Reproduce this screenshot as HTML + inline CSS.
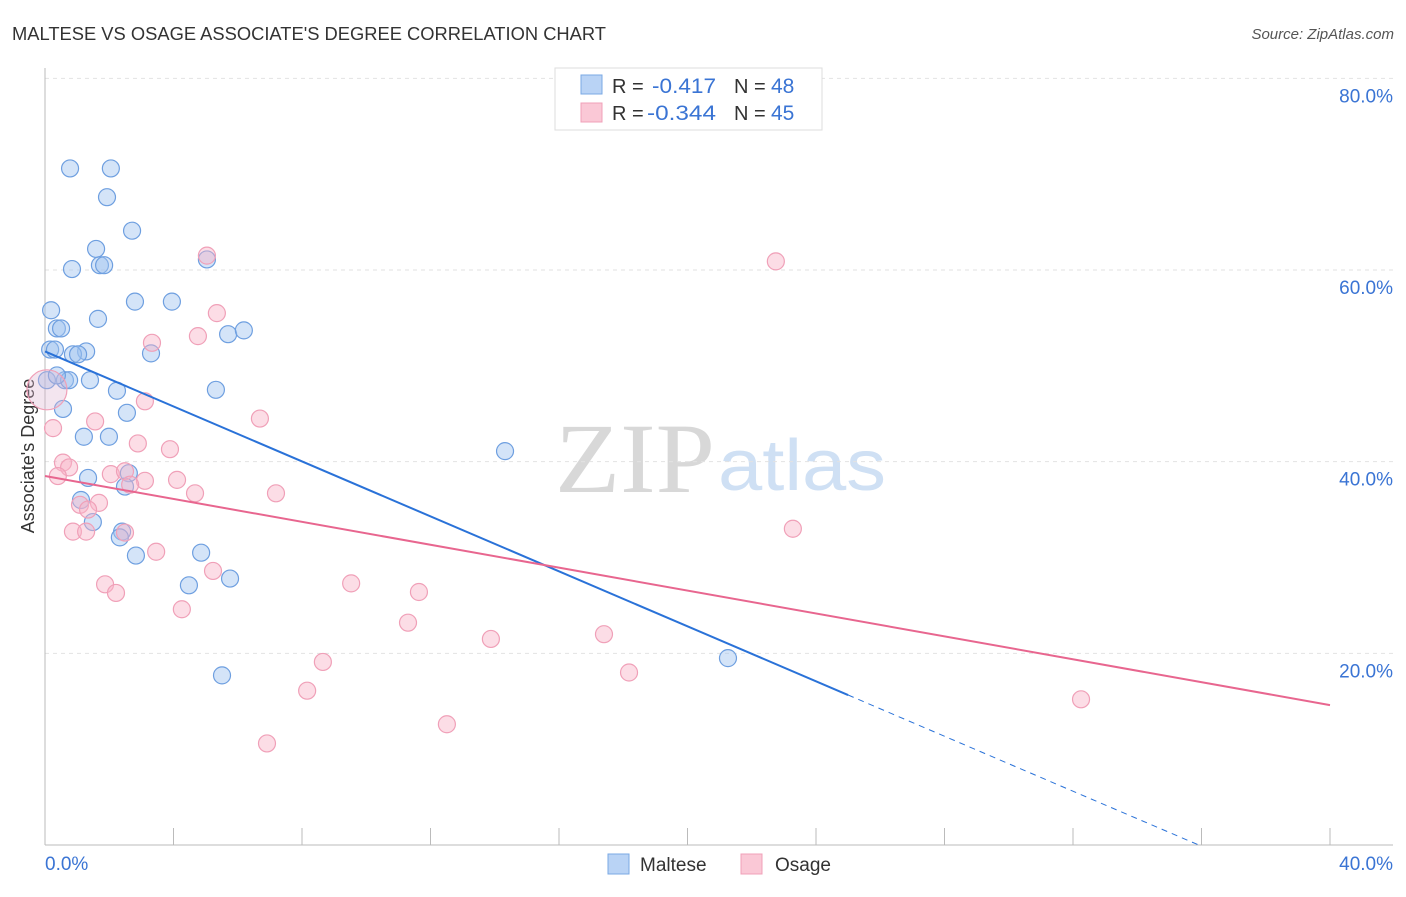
<!DOCTYPE html>
<html><head><meta charset="utf-8"><style>
body{margin:0;background:#fff;font-family:"Liberation Sans",sans-serif;}
svg text{font-family:"Liberation Sans",sans-serif;}
</style></head><body>
<svg id="chart" width="1406" height="892">
<text x="12" y="40" font-size="18" fill="#333" textLength="594" lengthAdjust="spacingAndGlyphs">MALTESE VS OSAGE ASSOCIATE'S DEGREE CORRELATION CHART</text>
<text x="1394" y="39" font-size="15" fill="#555" font-style="italic" text-anchor="end">Source: ZipAtlas.com</text>
<text x="555" y="492" font-size="100" fill="#d8d8d8" style="font-family:'Liberation Serif',serif" textLength="160" lengthAdjust="spacingAndGlyphs">ZIP</text>
<text x="718" y="490" font-size="72" fill="#cfe0f4" textLength="168" lengthAdjust="spacingAndGlyphs">atlas</text>
<text x="34" y="456" font-size="18" fill="#333" text-anchor="middle" transform="rotate(-90 34 456)">Associate's Degree</text>
<g id="grid"></g><g id="pts"></g><g id="lines"></g>
<g>
<rect x="555" y="68" width="267" height="62" fill="#fff" stroke="#ddd"/>
<rect x="581" y="75" width="21" height="19" fill="#b9d3f5" stroke="#7aa8e4"/>
<rect x="581" y="103" width="21" height="19" fill="#fac8d6" stroke="#f0a0b8"/>
<text x="612" y="93" font-size="20" fill="#333">R = </text><text x="652" y="93" font-size="21" fill="#3a74d4" textLength="64" lengthAdjust="spacingAndGlyphs">-0.417</text>
<text x="734" y="93" font-size="20" fill="#333">N = </text><text x="771" y="93" font-size="21" fill="#3a74d4">48</text>
<text x="612" y="120" font-size="20" fill="#333">R = </text><text x="647" y="120" font-size="21" fill="#3a74d4" textLength="69" lengthAdjust="spacingAndGlyphs">-0.344</text>
<text x="734" y="120" font-size="20" fill="#333">N = </text><text x="771" y="120" font-size="21" fill="#3a74d4">45</text>
</g>
<g>
<rect x="608" y="854" width="21" height="20" fill="#b9d3f5" stroke="#7aa8e4"/>
<text x="640" y="871" font-size="19" fill="#333">Maltese</text>
<rect x="741" y="854" width="21" height="20" fill="#fac8d6" stroke="#f0a0b8"/>
<text x="775" y="871" font-size="19" fill="#333">Osage</text>
</g>
</svg>
<script>
const yTicks=[20,40,60,80];
const yTickLabels=["20.0%","40.0%","60.0%","80.0%"];
const xTickLabels=["0.0%","40.0%"];
const malteseX=[0.78,2.05,1.93,2.71,1.59,0.84,1.71,1.84,5.04,0.19,2.80,3.95,1.65,0.37,0.50,5.70,6.19,0.16,0.31,1.28,0.87,1.03,3.30,0.06,0.62,0.75,1.40,2.24,5.32,0.56,2.55,1.21,1.99,14.32,1.34,2.61,2.49,1.12,1.49,2.40,2.33,2.83,4.86,4.48,5.76,5.51,21.26,0.37];
const malteseY=[70.6,70.6,67.6,64.1,62.2,60.1,60.5,60.5,61.1,55.8,56.7,56.7,54.9,53.9,53.9,53.3,53.7,51.7,51.7,51.5,51.2,51.2,51.3,48.5,48.5,48.5,48.5,47.4,47.5,45.5,45.1,42.6,42.6,41.1,38.3,38.8,37.4,36.0,33.7,32.7,32.1,30.2,30.5,27.1,27.8,17.7,19.5,49.0];
const osageX=[0.06,5.04,22.75,5.35,3.33,4.76,3.11,6.69,1.56,0.25,2.89,3.89,0.56,0.75,0.40,2.05,2.49,3.11,2.65,4.11,4.67,7.19,1.09,1.68,1.34,0.87,1.28,23.28,3.46,5.23,1.87,2.21,9.53,11.64,4.26,11.30,13.88,17.40,18.18,8.65,8.16,6.91,12.51,32.25,2.49];
const osageY=[47.5,61.5,60.9,55.5,52.4,53.1,46.3,44.5,44.2,43.5,41.9,41.3,39.9,39.4,38.5,38.7,39.0,38.0,37.6,38.1,36.7,36.7,35.5,35.7,35.0,32.7,32.7,33.0,30.6,28.6,27.2,26.3,27.3,26.4,24.6,23.2,21.5,22.0,18.0,19.1,16.1,10.6,12.6,15.2,32.6];
const malteseTrend=[51.5,-1.434];
const osageTrend=[38.5,-0.5975];
const X=v=>45+v*32.125, Y=v=>845-v*9.5833;
const NS="http://www.w3.org/2000/svg";
function mk(tag,attrs,parent){const e=document.createElementNS(NS,tag);for(const k in attrs)e.setAttribute(k,attrs[k]);parent.appendChild(e);return e;}
const grid=document.getElementById('grid');
yTicks.forEach((t,i)=>{
 const l=mk('line',{x1:45,x2:1393,y1:Y(t),y2:Y(t),stroke:'#e2e2e2','stroke-dasharray':'4,4'},grid);
 
 
 const tx=mk('text',{x:1393,y:Y(t)+24,'font-size':19,fill:'#3a74d4','text-anchor':'end'},grid);
 tx.textContent=yTickLabels[i];
 
 
});
const ax=mk('line',{x1:45,x2:1393,y1:845,y2:845,stroke:'#bbb'},grid);


const ay=mk('line',{x1:45,x2:45,y1:68,y2:845,stroke:'#bbb'},grid);


for(let i=0;i<=10;i++){const t=mk('line',{x1:X(i*4),x2:X(i*4),y1:828,y2:845,stroke:'#bbb'},grid);
 
 }
[[0,'start',45],[40,'end',1393]].forEach((d,i)=>{const t=mk('text',{x:d[2],y:870,'font-size':19,fill:'#3a74d4','text-anchor':d[1]},grid);t.textContent=xTickLabels[i];
 
 });
const pts=document.getElementById('pts');
malteseX.forEach((x,i)=>{const c=mk('circle',{cx:X(x),cy:Y(malteseY[i]),r:8.5,fill:'rgba(160,196,240,0.45)',stroke:'#6e9fe0','stroke-width':1.2},pts);
 
 });
osageX.forEach((x,i)=>{const c=mk('circle',{cx:X(x),cy:Y(osageY[i]),r:i===0?20:8.5,fill:i===0?'rgba(220,180,210,0.35)':'rgba(248,180,200,0.45)',stroke:'#f0a0b8','stroke-width':1.2},pts);
 
 });
const lines=document.getElementById('lines');
const f=(t,x)=>t[0]+t[1]*x;
const bx0=-malteseTrend[0]/malteseTrend[1];
const b1=mk('line',{x1:X(0),y1:Y(f(malteseTrend,0)),x2:X(25),y2:Y(f(malteseTrend,25)),stroke:'#2a72d8','stroke-width':2},lines);


const b2=mk('line',{x1:X(25),y1:Y(f(malteseTrend,25)),x2:X(bx0),y2:Y(0),stroke:'#2a72d8','stroke-width':1,'stroke-dasharray':'6,5'},lines);


const p1=mk('line',{x1:X(0),y1:Y(f(osageTrend,0)),x2:X(40),y2:Y(f(osageTrend,40)),stroke:'#e8668f','stroke-width':2},lines);


</script>
</body></html>
